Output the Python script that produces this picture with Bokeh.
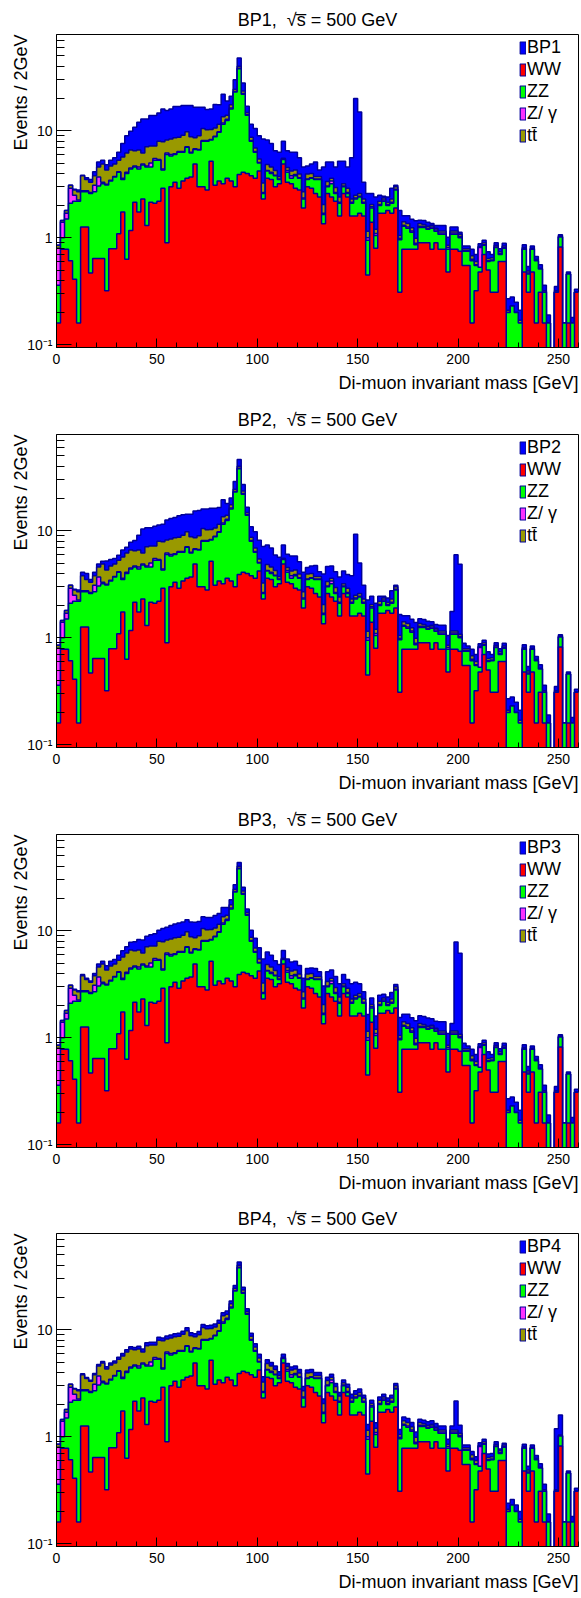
import numpy as np
from bokeh.plotting import figure
from bokeh.layouts import column
from bokeh.models import (Range1d, FixedTicker, CustomJSTickFormatter, Title,
                          Legend, LegendItem)
from bokeh.embed import file_html
from bokeh.resources import INLINE

# ---------------- data (events / 2 GeV, 130 bins from 0 to 260 GeV) ----------------
BIN_EDGES = list(range(0, 262, 2))

WW = [
    0.16, 0.78, 0.78, 0.61, 0.41, 0.16, 1.26, 1.26, 0.47, 0.64,
    0.64, 0.64, 0.32, 0.79, 0.79, 1.09, 1.74, 0.63, 1.17, 2.15,
    1.74, 2.31, 1.30, 2.15, 2.10, 2.20, 2.90, 0.90, 3.00, 3.30,
    2.90, 3.40, 3.60, 3.70, 4.90, 3.00, 3.00, 2.80, 5.20, 3.10,
    3.40, 3.20, 3.60, 3.40, 3.00, 3.90, 4.10, 4.00, 3.80, 3.60,
    4.20, 2.30, 3.60, 3.50, 3.00, 3.20, 4.90, 3.30, 3.20, 2.90,
    2.80, 1.90, 3.00, 2.90, 2.60, 2.40, 1.35, 2.60, 2.40, 2.20,
    1.60, 2.60, 2.40, 1.60, 1.60, 1.70, 1.60, 0.45, 1.40, 0.80,
    1.70, 1.70, 1.80, 1.70, 1.90, 0.31, 0.78, 0.78, 0.78, 0.78,
    0.90, 0.90, 0.90, 0.78, 0.90, 0.78, 0.78, 0.48, 0.78, 0.78,
    0.75, 0.55, 0.55, 0.16, 0.32, 0.48, 0.70, 0.50, 0.31, 0.31,
    0.60, 0.60, 0.00, 0.00, 0.00, 0.00, 0.48, 0.31, 0.48, 0.16,
    0.31, 0.16, 0.00, 0.00, 0.31, 0.82, 0.00, 0.16, 0.00, 0.31]

ZZ = [
    0.20, 0.22, 0.72, 1.49, 1.79, 2.04, 1.44, 1.44, 2.13, 2.06,
    2.41, 2.56, 2.79, 2.61, 2.91, 3.01, 1.76, 3.37, 3.23, 2.45,
    2.66, 2.49, 3.30, 2.45, 3.20, 3.10, 1.40, 5.10, 2.80, 2.70,
    3.40, 2.90, 3.40, 2.50, 1.80, 3.60, 5.00, 5.20, 3.00, 5.70,
    6.30, 8.30, 8.90, 12.6, 20.0, 34.1, 17.9, 10.0, 4.20, 2.70,
    0.80, 0.30, 0.60, 0.50, 0.80, 0.30, 0.50, 0.80, 0.40, 0.90,
    0.80, 0.40, 0.50, 0.70, 0.90, 1.10, 0.30, 0.40, 0.80, 0.40,
    0.50, 0.40, 0.20, 0.50, 0.70, 0.70, 0.50, 0.50, 0.50, 0.25,
    0.30, 0.50, 0.20, 0.40, 0.90, 0.65, 0.50, 0.45, 0.35, 0.08,
    0.35, 0.35, 0.30, 0.45, 0.25, 0.30, 0.30, 0.30, 0.30, 0.30,
    0.25, 0.20, 0.20, 0.45, 0.23, 0.05, 0.15, 0.10, 0.30, 0.50,
    0.10, 0.20, 0.20, 0.23, 0.20, 0.16, 0.30, 0.15, 0.30, 0.45,
    0.20, 0.15, 0.16, 0.00, 0.00, 0.20, 0.16, 0.30, 0.16, 0.00]

ZGAMMA = [
    0.44, 0.40, 0.20, 0.80, 0.30, 0.05, 0.05, 0.05, 0.05, 0.40,
    0.65, 0.10, 0.05, 0.05, 0.05, 0.05, 0.10, 0.10, 0.10, 0.10,
    0.20, 0.10, 0.10, 0.40, 0.20, 0.10, 0.10, 0.20, 0.20, 0.10,
    0.10, 0.10, 0.10, 0.10, 0.10, 0.10, 0.10, 0.10, 0.10, 0.10,
    0.10, 0.30, 0.30, 0.30, 0.30, 0.50, 0.30, 0.20, 0.10, 0.10,
    0.05, 0.05, 0.05, 0.10, 0.05, 0.05, 0.05, 0.15, 0.20, 0.10,
    0.05, 0.05, 0.05, 0.05, 0.05, 0.05, 0.05, 0.05, 0.20, 0.05,
    0.05, 0.05, 0.05, 0.05, 0.05, 0.05, 0.05, 0.05, 0.05, 0.05,
    0.05, 0.05, 0.05, 0.05, 0.05, 0.03, 0.03, 0.03, 0.03, 0.03,
    0.03, 0.03, 0.03, 0.03, 0.03, 0.03, 0.03, 0.03, 0.03, 0.03,
    0.03, 0.01, 0.01, 0.02, 0.01, 0.28, 0.01, 0.01, 0.01, 0.01,
    0.01, 0.01, 0.00, 0.00, 0.00, 0.00, 0.01, 0.01, 0.00, 0.00,
    0.00, 0.00, 0.00, 0.00, 0.00, 0.00, 0.00, 0.00, 0.00, 0.00]

TTBAR = [
    0.05, 0.05, 0.10, 0.20, 0.30, 0.45, 1.05, 0.75, 0.65, 0.70,
    0.90, 1.60, 1.15, 1.25, 1.15, 1.15, 2.10, 2.10, 2.10, 1.80,
    2.00, 1.30, 2.40, 2.20, 1.70, 2.60, 3.50, 2.00, 2.40, 2.50,
    2.30, 2.70, 2.70, 2.50, 1.80, 2.30, 2.40, 2.10, 2.00, 1.70,
    1.70, 1.70, 1.20, 1.20, 1.20, 1.50, 1.20, 0.60, 0.60, 0.50,
    0.40, 0.60, 0.60, 0.50, 0.40, 0.20, 0.10, 0.30, 0.40, 0.40,
    0.30, 0.35, 0.40, 0.35, 0.20, 0.20, 0.35, 0.30, 0.20, 0.30,
    0.25, 0.15, 0.25, 0.15, 0.15, 0.15, 0.15, 0.15, 0.10, 0.10,
    0.15, 0.10, 0.10, 0.15, 0.15, 0.06, 0.10, 0.10, 0.08, 0.10,
    0.08, 0.05, 0.05, 0.05, 0.05, 0.05, 0.05, 0.04, 0.05, 0.05,
    0.05, 0.03, 0.03, 0.05, 0.04, 0.02, 0.04, 0.03, 0.03, 0.03,
    0.03, 0.03, 0.01, 0.00, 0.00, 0.01, 0.02, 0.02, 0.02, 0.02,
    0.01, 0.01, 0.00, 0.00, 0.01, 0.02, 0.00, 0.00, 0.00, 0.00]

BP1 = [
    0.00, 0.00, 0.00, 0.00, 0.05, 0.10, 0.05, 0.15, 0.20, 0.35,
    0.50, 0.40, 0.50, 0.60, 0.70, 1.00, 1.90, 2.80, 3.30, 4.30,
    5.40, 6.70, 5.80, 6.70, 6.70, 6.70, 8.10, 7.30, 7.60, 8.30,
    8.20, 8.10, 7.40, 8.40, 8.00, 7.60, 6.10, 5.60, 5.70, 7.00,
    6.00, 8.50, 5.00, 3.50, 5.50, 8.00, 4.50, 2.20, 2.80, 3.60,
    3.55, 5.15, 3.35, 3.00, 2.25, 2.55, 2.45, 1.95, 2.10, 2.00,
    1.65, 1.90, 0.75, 0.90, 1.35, 0.55, 2.55, 1.75, 1.50, 1.65,
    2.80, 2.00, 1.70, 3.30, 17.5, 12.4, 1.00, 1.45, 0.55, 1.20,
    0.30, 0.10, 0.25, 0.60, 0.10, 0.75, 0.20, 0.25, 0.25, 0.45,
    0.10, 0.12, 0.12, 0.05, 0.07, 0.14, 0.14, 0.16, 0.10, 0.10,
    0.05, 0.05, 0.05, 0.10, 0.10, 0.05, 0.05, 0.10, 0.05, 0.05,
    0.05, 0.05, 0.06, 0.05, 0.05, 0.04, 0.05, 0.05, 0.04, 0.04,
    0.04, 0.04, 0.03, 0.00, 0.03, 0.03, 0.00, 0.02, 0.02, 0.02]

BP2 = [
    0.00, 0.00, 0.00, 0.00, 0.05, 0.10, 0.30, 0.50, 0.20, 0.30,
    0.30, 0.30, 0.90, 0.70, 0.60, 0.60, 0.90, 0.80, 1.20, 1.60,
    2.50, 4.20, 3.60, 3.50, 3.80, 3.30, 3.60, 4.40, 4.60, 4.70,
    5.10, 5.00, 4.50, 5.50, 6.70, 6.50, 5.50, 5.80, 5.90, 5.60,
    5.00, 6.00, 4.00, 2.80, 4.40, 6.40, 3.60, 1.80, 2.20, 2.90,
    2.70, 3.90, 2.50, 2.30, 1.70, 1.90, 1.80, 1.50, 1.60, 1.50,
    1.20, 1.40, 0.60, 0.70, 1.00, 0.40, 1.90, 1.30, 1.10, 1.20,
    1.30, 1.00, 1.00, 1.50, 6.80, 2.40, 0.80, 1.10, 0.40, 0.90,
    0.25, 0.10, 0.20, 0.45, 0.10, 0.60, 0.20, 0.25, 0.25, 0.40,
    0.15, 0.15, 0.15, 0.10, 0.10, 0.15, 0.15, 0.20, 0.60, 4.80,
    3.80, 0.10, 0.05, 0.10, 0.10, 0.05, 0.05, 0.10, 0.05, 0.05,
    0.05, 0.05, 0.06, 0.05, 0.05, 0.04, 0.05, 0.05, 0.04, 0.04,
    0.04, 0.04, 0.03, 0.00, 0.03, 0.03, 0.00, 0.02, 0.02, 0.02]

BP3 = [
    0.00, 0.00, 0.00, 0.00, 0.05, 0.05, 0.10, 0.10, 0.10, 0.20,
    0.30, 0.30, 0.40, 0.50, 0.50, 0.60, 0.80, 0.90, 1.20, 1.40,
    1.70, 2.00, 1.80, 2.00, 2.20, 2.10, 2.60, 2.60, 2.80, 3.00,
    3.10, 3.00, 2.90, 3.30, 3.40, 3.20, 3.00, 3.10, 3.00, 3.30,
    3.00, 3.00, 2.50, 2.00, 2.50, 3.50, 2.00, 1.20, 1.40, 1.60,
    1.50, 2.20, 1.50, 1.30, 1.00, 1.10, 1.00, 0.90, 0.90, 0.90,
    0.80, 0.90, 0.50, 0.50, 0.70, 0.40, 1.00, 0.80, 0.70, 0.80,
    0.80, 0.70, 0.60, 0.90, 0.80, 0.60, 0.40, 0.50, 0.30, 0.40,
    0.30, 0.20, 0.25, 0.35, 0.15, 0.50, 0.25, 0.30, 0.30, 0.45,
    0.25, 0.25, 0.25, 0.20, 0.20, 0.25, 0.25, 0.25, 0.20, 6.70,
    5.10, 0.10, 0.05, 0.10, 0.10, 0.05, 0.05, 0.10, 0.05, 0.05,
    0.05, 0.05, 0.06, 0.05, 0.05, 0.04, 0.05, 0.05, 0.04, 0.04,
    0.04, 0.04, 0.03, 0.00, 0.03, 0.03, 0.00, 0.02, 0.02, 0.02]

BP4 = [
    0.00, 0.00, 0.00, 0.00, 0.02, 0.05, 0.08, 0.08, 0.08, 0.10,
    0.15, 0.15, 0.20, 0.20, 0.20, 0.25, 0.30, 0.30, 0.35, 0.35,
    0.40, 0.40, 0.45, 0.45, 0.45, 0.50, 0.50, 0.55, 0.55, 0.60,
    0.60, 0.60, 0.65, 0.60, 0.60, 0.65, 0.70, 0.70, 0.70, 0.75,
    0.80, 0.90, 1.00, 1.10, 1.50, 3.00, 1.50, 0.90, 0.60, 0.50,
    0.45, 0.40, 0.40, 0.35, 0.35, 0.30, 0.35, 0.30, 0.30, 0.30,
    0.30, 0.25, 0.25, 0.25, 0.25, 0.25, 0.20, 0.25, 0.25, 0.20,
    0.20, 0.20, 0.20, 0.20, 0.20, 0.20, 0.15, 0.15, 0.15, 0.15,
    0.15, 0.15, 0.15, 0.15, 0.15, 0.12, 0.12, 0.12, 0.12, 0.12,
    0.10, 0.10, 0.10, 0.10, 0.10, 0.10, 0.10, 0.10, 0.10, 1.00,
    0.20, 0.05, 0.05, 0.05, 0.05, 0.05, 0.05, 0.05, 0.05, 0.05,
    0.03, 0.03, 0.03, 0.03, 0.03, 0.03, 0.04, 0.04, 0.04, 0.04,
    0.04, 0.04, 0.03, 0.00, 0.87, 0.56, 0.00, 0.02, 0.02, 0.02]

SIGNALS = [("BP1", BP1), ("BP2", BP2), ("BP3", BP3), ("BP4", BP4)]
X_TICKS = [0, 50, 100, 150, 200, 250]
X_MINOR = list(range(0, 261, 10))
Y_TICKS = [0.1, 1, 10]
Y_MINOR = [0.2, 0.3, 0.4, 0.5, 0.6, 0.7, 0.8, 0.9,
           2, 3, 4, 5, 6, 7, 8, 9, 20, 30, 40, 50, 60, 70]

# ---------------- style ----------------
C_SIG, C_WW, C_ZZ, C_ZG, C_TT = "#0000ff", "#ff0000", "#00ff00", "#ff33ff", "#999900"
EDGE = "#000099"
FONT = "Liberation Sans"
YMIN, YMAX = 0.0944, 79.4
FLOOR = 1e-3
HEIGHTS = [400, 400, 399, 399]


def steps(vals):
    e = np.asarray(BIN_EDGES, dtype=float)
    xs = np.repeat(e, 2)[1:-1]
    ys = np.repeat(np.asarray(vals, dtype=float), 2)
    ys = np.where(ys > 0, ys, FLOOR)
    return xs, ys


def make_panel(name, sig, h):
    p = figure(width=581, height=h, y_axis_type="log",
               x_range=Range1d(0, 260), y_range=Range1d(YMIN, YMAX),
               output_backend="svg", toolbar_location=None,
               min_border_left=56, min_border_right=3,
               min_border_top=34, min_border_bottom=h - 347)
    p.background_fill_color = "white"
    p.border_fill_color = "white"
    p.outline_line_color = "black"
    p.outline_line_width = 1
    p.xgrid.visible = False
    p.ygrid.visible = False

    c1 = np.asarray(WW, float)
    c2 = c1 + np.asarray(ZZ, float)
    c3 = c2 + np.asarray(ZGAMMA, float)
    c4 = c3 + np.asarray(TTBAR, float)
    c5 = c4 + np.asarray(sig, float)
    for cum, col in [(c5, C_SIG), (c4, C_TT), (c3, C_ZG), (c2, C_ZZ), (c1, C_WW)]:
        xs, ys = steps(cum)
        p.varea(x=xs, y1=np.full_like(ys, FLOOR), y2=ys, fill_color=col, fill_alpha=1.0)
        p.line(xs, ys, line_color=EDGE, line_width=1.5)

    # title
    p.title.text = f"{name},\u00a0\u00a0\u221as\u0305 = 500 GeV"
    p.title.align = "center"
    p.title.text_font = FONT
    p.title.text_font_size = "18px"
    p.title.text_font_style = "normal"
    p.title.text_color = "black"
    p.title.standoff = 10

    # axes
    xa = p.xaxis[0]
    xa.ticker = FixedTicker(ticks=X_TICKS, minor_ticks=X_MINOR)
    xa.major_tick_in = 9
    xa.major_tick_out = 0
    xa.minor_tick_in = 5
    xa.minor_tick_out = 0
    xa.major_label_text_font = FONT
    xa.major_label_text_font_size = "14px"
    xa.major_label_standoff = 6
    xa.axis_line_color = "black"
    xa.major_label_text_color = "black"

    ya = p.yaxis[0]
    ya.ticker = FixedTicker(ticks=Y_TICKS, minor_ticks=Y_MINOR)
    ya.formatter = CustomJSTickFormatter(
        code="return tick < 0.5 ? '10\u207b\u00b9' : tick.toFixed(0);")
    ya.major_tick_in = 15
    ya.major_tick_out = 0
    ya.minor_tick_in = 8
    ya.minor_tick_out = 0
    ya.major_label_text_font = FONT
    ya.major_label_text_font_size = "14px"
    ya.major_label_standoff = 4
    ya.axis_line_color = "black"
    ya.major_label_text_color = "black"

    # axis titles (ROOT style: right / top aligned) as side-panel titles
    p.add_layout(Title(text="Di-muon invariant mass [GeV]", align="right",
                       text_font=FONT, text_font_size="18px", text_font_style="normal",
                       text_color="black", standoff=9), "below")
    p.add_layout(Title(text="Events / 2GeV", align="right",
                       text_font=FONT, text_font_size="18px", text_font_style="normal",
                       text_color="black", standoff=-12), "left")

    # legend (proxy quads collapsed to zero size below the frame)
    entries = [(name, C_SIG), ("WW", C_WW), ("ZZ", C_ZZ), ("Z/ \u03b3", C_ZG), ("tt\u0304", C_TT)]
    items = []
    for lab, col in entries:
        r = p.quad(left=[0], right=[0], top=[FLOOR], bottom=[FLOOR], fill_color=col,
                   line_color=EDGE, line_width=1.2)
        items.append(LegendItem(label=lab, renderers=[r]))
    leg = Legend(items=items, location=(463, 201), orientation="vertical",
                 glyph_width=7, glyph_height=15, label_standoff=1, spacing=1,
                 padding=0, margin=0, border_line_alpha=0, background_fill_alpha=0,
                 label_text_font=FONT, label_text_font_size="18px",
                 label_text_color="black", label_height=20)
    p.add_layout(leg)
    return p


figs = [make_panel(n, s, h) for (n, s), h in zip(SIGNALS, HEIGHTS)]
layout = column(*figs, spacing=0)
open("out.html", "w").write(file_html(layout, INLINE))
